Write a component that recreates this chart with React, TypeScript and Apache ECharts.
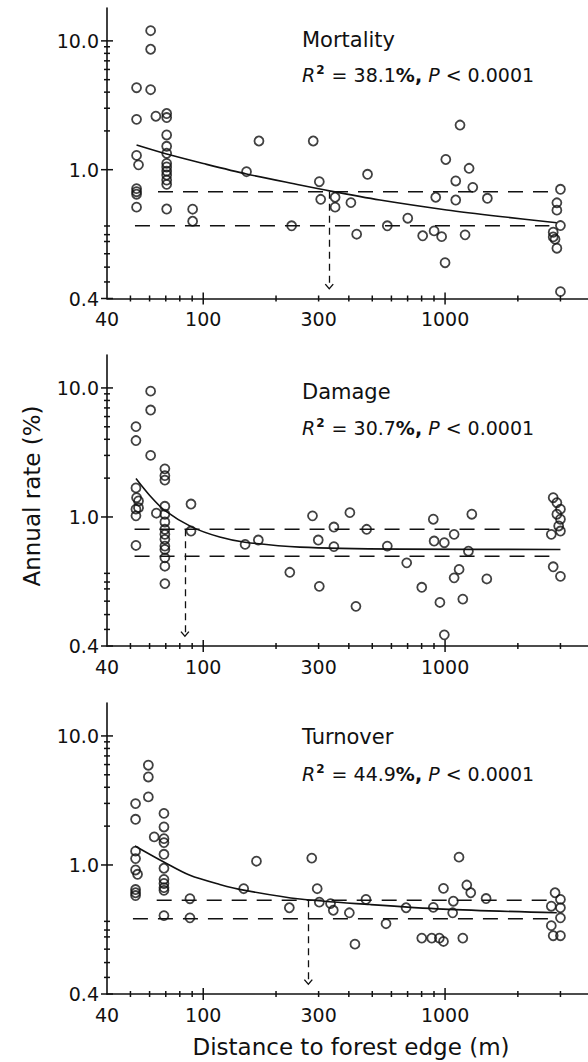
import React, { useEffect, useRef } from "react";
import * as echarts from "echarts";

// ---------- axis definitions ----------
const X_MIN = 40;
const X_MAX = 3900;
const Y_MIN = 0.4;
const Y_MAX = 18;
const xTickLabels = [40, 100, 300, 1000];
const xMajorTicks = [100, 1000];
const xMinorTicks = [50, 60, 70, 80, 90, 200, 300, 400, 500, 600, 700, 800, 900, 2000, 3000];
const yTickLabels = [0.4, 1, 10];
const yMajorTicks = [0.4, 1, 10];
const yMinorTicks = [2, 3, 4, 5, 6, 7, 8, 9, 0.45, 0.5, 0.55, 0.6, 0.63, 0.67];

// ---------- panel texts ----------
const panelNames = ["Mortality", "Damage", "Turnover"];
const r2Values = ["38.1", "30.7", "44.9"];
const pValue = "0.0001";
const yTitle = "Annual rate (%)";
const xTitle = "Distance to forest edge (m)";

// ---------- data: [distance (m), annual rate (%)] ----------
const mortalityPoints = [
  [53, 4.33], [53, 2.46], [53, 1.29], [54, 1.09], [53, 0.874], [53, 0.855], [53, 0.84], [53, 0.766],
  [60.6, 12.0], [60.6, 8.61], [60.6, 4.18], [63.7, 2.6],
  [70.6, 2.73], [70.6, 2.54], [70.6, 1.86], [70.6, 1.52], [70.6, 1.34], [70.6, 1.12], [70.6, 1.05],
  [70.6, 0.99], [70.6, 0.963], [70.6, 0.929], [70.6, 0.901], [70.6, 0.756],
  [90.4, 0.755], [90.4, 0.693],
  [151, 0.986], [170, 1.67], [232, 0.671],
  [285, 1.67], [302, 0.918], [306, 0.81], [351, 0.822], [351, 0.766], [408, 0.791], [431, 0.632],
  [478, 0.968], [577, 0.671], [701, 0.708], [808, 0.625], [901, 0.647], [968, 0.621], [915, 0.822],
  [1007, 1.2], [1000, 0.516], [1107, 0.923], [1107, 0.806], [1153, 2.22], [1210, 0.629],
  [1257, 1.025], [1302, 0.882], [1496, 0.816],
  [3000, 0.87], [2900, 0.79], [2900, 0.75], [3000, 0.672], [2800, 0.641], [2800, 0.62],
  [2850, 0.61], [2900, 0.572], [3000, 0.42],
];
const damagePoints = [
  [52.7, 5.01], [52.7, 3.91], [52.7, 1.68], [53, 1.41], [54, 1.33], [54, 1.18], [52.7, 1.15],
  [52.7, 1.02], [52.7, 0.817],
  [60.6, 9.44], [60.6, 6.74], [60.6, 3.0], [64, 1.07],
  [69.4, 2.36], [69.4, 2.09], [69.4, 1.93], [69.4, 1.21], [69.4, 1.05], [69.4, 0.965], [69.4, 0.916],
  [69.4, 0.884], [69.4, 0.853], [69.4, 0.813], [69.4, 0.794], [69.4, 0.748], [69.4, 0.705], [69.4, 0.623],
  [89, 1.26], [89, 0.905],
  [149, 0.823], [169, 0.849], [228, 0.675],
  [283, 1.02], [302, 0.611], [299, 0.849], [347, 0.931], [347, 0.81], [404, 1.08], [428, 0.53],
  [474, 0.916], [577, 0.813], [694, 0.722], [801, 0.607], [894, 0.984], [901, 0.843], [952, 0.545],
  [993, 0.833], [993, 0.433], [1090, 0.884], [1090, 0.649], [1143, 0.689], [1184, 0.558],
  [1249, 0.784], [1290, 1.05], [1488, 0.644],
  [2800, 1.41], [2900, 1.29], [3000, 1.15], [2900, 1.05], [3000, 0.984], [2950, 0.938],
  [3000, 0.905], [2750, 0.884], [2800, 0.702], [3000, 0.656],
];
const turnoverPoints = [
  [52.5, 2.99], [52.5, 2.26], [52.5, 1.28], [52.5, 1.12], [52.5, 0.965], [53.5, 0.936], [52.5, 0.84],
  [52.5, 0.821], [52.5, 0.805],
  [59.3, 5.93], [59.3, 4.81], [59.3, 3.37], [62.7, 1.65],
  [68.8, 2.51], [68.8, 1.97], [68.8, 1.6], [68.8, 1.49], [68.8, 1.21], [68.8, 0.977], [68.8, 0.903],
  [68.8, 0.877], [68.8, 0.851], [68.8, 0.835], [68.8, 0.698],
  [88.1, 0.787], [88.1, 0.687],
  [147, 0.845], [166, 1.07], [227, 0.738],
  [281, 1.13], [296, 0.845], [302, 0.768], [336, 0.76], [345, 0.725], [402, 0.712], [424, 0.57],
  [471, 0.783], [570, 0.659], [690, 0.738], [801, 0.595], [881, 0.595], [894, 0.74], [947, 0.595],
  [985, 0.581], [985, 0.847], [1082, 0.773], [1075, 0.712], [1142, 1.15], [1184, 0.595],
  [1230, 0.867], [1277, 0.821], [1478, 0.788],
  [2850, 0.821], [3000, 0.783], [2750, 0.746], [3000, 0.738], [3000, 0.687], [2750, 0.65],
  [2800, 0.605], [3000, 0.605],
];

// fitted curves
const mortalityFit = [
  [53, 1.552], [70.6, 1.322], [100, 1.117], [151, 0.97], [251, 0.897], [332, 0.86],
  [538, 0.806], [1016, 0.751], [1689, 0.717], [2897, 0.686],
];
const damageFit = [
  [52.7, 1.985], [60.2, 1.461], [69.5, 1.118], [89.5, 0.932], [117, 0.867], [148.7, 0.836],
  [251, 0.807], [651, 0.796], [3000, 0.794],
];
const turnoverFit = [
  [52.2, 1.404], [68.4, 1.059], [88.1, 0.929], [117, 0.871], [148.7, 0.835], [251, 0.785],
  [490, 0.755], [981, 0.731], [2897, 0.712],
];

// interior reference band (dashed) and threshold distance (arrow)
const bandUpper = [0.855, 0.916, 0.779];
const bandLower = [0.671, 0.757, 0.682];
const bandUpperStart = [65, 52, 64.2];
const bandLowerStart = [52.2, 52, 51.2];
const bandEnd = 2700;
const thresholds = [332, 84, 272];
const arrowEnd = 0.435;

const pointSets = [mortalityPoints, damagePoints, turnoverPoints];
const fitSets = [mortalityFit, damageFit, turnoverFit];

// ---------- scales ----------
const LOW = -Math.log10(0.4);
const tx = (v: number) => Math.log10(v);
const ty = (v: number) => (v >= 1 ? Math.log10(v) : Math.log10(v) / LOW);
const fromTy = (t: number) => (t >= 0 ? Math.pow(10, t) : Math.pow(10, t * LOW));

const INK = "#111";
const FONT = "DejaVu Sans";

const grids = [
  { left: 107, top: 8, width: 481, height: 290.5 },
  { left: 107, top: 355, width: 481, height: 291 },
  { left: 107, top: 703, width: 481, height: 291 },
];

function xAxisFor(gi: number) {
  return {
    type: "value",
    gridIndex: gi,
    position: "bottom",
    min: tx(X_MIN),
    max: tx(X_MAX),
    splitLine: { show: false },
    axisLine: { show: true, onZero: false, lineStyle: { color: INK, width: 1.6 } },
    axisTick: { show: false },
    axisLabel: {
      show: true,
      customValues: xTickLabels.map(tx),
      formatter: (v: number) => String(Math.round(Math.pow(10, v))),
      margin: 11,
      fontSize: 19,
      fontFamily: FONT,
      color: INK,
    },
  };
}

function yAxisFor(gi: number) {
  return {
    type: "value",
    gridIndex: gi,
    position: "left",
    min: ty(Y_MIN),
    max: ty(Y_MAX),
    splitLine: { show: false },
    axisLine: { show: true, onZero: false, lineStyle: { color: INK, width: 1.6 } },
    axisTick: { show: false },
    axisLabel: {
      show: true,
      customValues: yTickLabels.map(ty),
      formatter: (v: number) => fromTy(v).toFixed(1),
      margin: 8,
      fontSize: 19,
      fontFamily: FONT,
      color: INK,
    },
  };
}

// crossing tick marks drawn through the axes' own coordinate mapping
function xTickSeries(i: number, values: number[], half: number) {
  return {
    type: "custom",
    xAxisIndex: i,
    yAxisIndex: i,
    silent: true,
    clip: false,
    z: 5,
    data: values.map((v) => [tx(v), ty(Y_MIN)]),
    renderItem: (params: any, api: any) => {
      const p = api.coord([api.value(0), api.value(1)]);
      return {
        type: "line",
        shape: { x1: p[0], y1: p[1] - half, x2: p[0], y2: p[1] + half },
        style: { stroke: INK, lineWidth: 1.5 },
      };
    },
  };
}

function yTickSeries(i: number, values: number[], half: number) {
  return {
    type: "custom",
    xAxisIndex: i,
    yAxisIndex: i,
    silent: true,
    clip: false,
    z: 5,
    data: values.map((v) => [tx(X_MIN), ty(v)]),
    renderItem: (params: any, api: any) => {
      const p = api.coord([api.value(0), api.value(1)]);
      return {
        type: "line",
        shape: { x1: p[0] - half, y1: p[1], x2: p[0] + half, y2: p[1] },
        style: { stroke: INK, lineWidth: 1.5 },
      };
    },
  };
}

const chevron = "path://M0,6 L5,0 L10,6 L8.8,7 L5,2.2 L1.2,7 Z";

function seriesFor(i: number) {
  const ax = { xAxisIndex: i, yAxisIndex: i };
  const dashed = { color: INK, width: 1.5, type: [15, 10] };
  return [
    {
      type: "line",
      ...ax,
      data: [[tx(bandUpperStart[i]), ty(bandUpper[i])], [tx(bandEnd), ty(bandUpper[i])]],
      showSymbol: false,
      symbol: "none",
      lineStyle: dashed,
      z: 1,
      markLine: {
        silent: true,
        symbol: ["none", chevron],
        symbolSize: [9, 6],
        lineStyle: { color: INK, width: 1.3, type: [7, 5] },
        label: { show: false },
        data: [[{ coord: [tx(thresholds[i]), ty(bandUpper[i])] }, { coord: [tx(thresholds[i]), ty(arrowEnd)] }]],
      },
    },
    {
      type: "line",
      ...ax,
      data: [[tx(bandLowerStart[i]), ty(bandLower[i])], [tx(bandEnd), ty(bandLower[i])]],
      showSymbol: false,
      symbol: "none",
      lineStyle: dashed,
      z: 1,
    },
    {
      type: "line",
      ...ax,
      data: fitSets[i].map(([d, r]) => [tx(d), ty(r)]),
      showSymbol: false,
      symbol: "none",
      smooth: 0.3,
      lineStyle: { color: INK, width: 1.6 },
      z: 2,
    },
    {
      type: "scatter",
      ...ax,
      data: pointSets[i].map(([d, r]) => [tx(d), ty(r)]),
      symbol: "circle",
      symbolSize: 9,
      itemStyle: { color: "rgba(0,0,0,0)", borderColor: INK, borderWidth: 1.8 },
      z: 3,
    },
    xTickSeries(i, xMajorTicks, 6),
    xTickSeries(i, xMinorTicks, 3),
    yTickSeries(i, yMajorTicks, 6),
    yTickSeries(i, yMinorTicks, 3),
  ];
}

const textTops = [
  [29, 64],
  [381, 417],
  [726, 763],
];

function graphicsFor(i: number) {
  return [
    {
      type: "text",
      left: 302,
      top: textTops[i][0],
      style: { text: panelNames[i], fontSize: 21, fontFamily: FONT, fill: INK },
    },
    {
      type: "text",
      left: 302,
      top: textTops[i][1],
      style: {
        text: `{i|R}{s|2}{n| = ${r2Values[i]}}{b|%,} {i|P}{n| < ${pValue}}`,
        fill: INK,
        fontSize: 19,
        fontFamily: FONT,
        rich: {
          i: { fontSize: 19, fontStyle: "italic", fontFamily: FONT, fill: INK },
          s: { fontSize: 12, fontWeight: "bold", fontFamily: FONT, fill: INK, padding: [0, 1, 10, 1] },
          n: { fontSize: 19, fontFamily: FONT, fill: INK },
          b: { fontSize: 19, fontWeight: "bold", fontFamily: FONT, fill: INK },
        },
      },
    },
  ];
}

export default function App() {
  const ref = useRef<HTMLDivElement>(null);
  useEffect(() => {
    document.body.style.margin = "0";
    if (!ref.current) return;
    const chart = echarts.init(ref.current, null, { renderer: "svg" });
    const option: any = {
      animation: false,
      backgroundColor: "#fff",
      grid: grids,
      xAxis: [0, 1, 2].map((i) => xAxisFor(i)),
      yAxis: [0, 1, 2].map((i) => yAxisFor(i)),
      series: [0, 1, 2].flatMap((i) => seriesFor(i)),
      graphic: [
        ...[0, 1, 2].flatMap((i) => graphicsFor(i)),
        {
          type: "text",
          x: 31.5,
          y: 496,
          rotation: Math.PI / 2,
          style: {
            text: yTitle,
            fontSize: 23,
            fontFamily: FONT,
            fill: INK,
            align: "center",
            verticalAlign: "middle",
            textAlign: "center",
            textVerticalAlign: "middle",
          },
        },
        {
          type: "text",
          x: 351,
          y: 1047,
          style: {
            text: xTitle,
            fontSize: 23,
            fontFamily: FONT,
            fill: INK,
            align: "center",
            verticalAlign: "middle",
            textAlign: "center",
            textVerticalAlign: "middle",
          },
        },
      ],
    };
    chart.setOption(option);
    return () => chart.dispose();
  }, []);
  return <div ref={ref} style={{ width: 588, height: 1062 }} />;
}
